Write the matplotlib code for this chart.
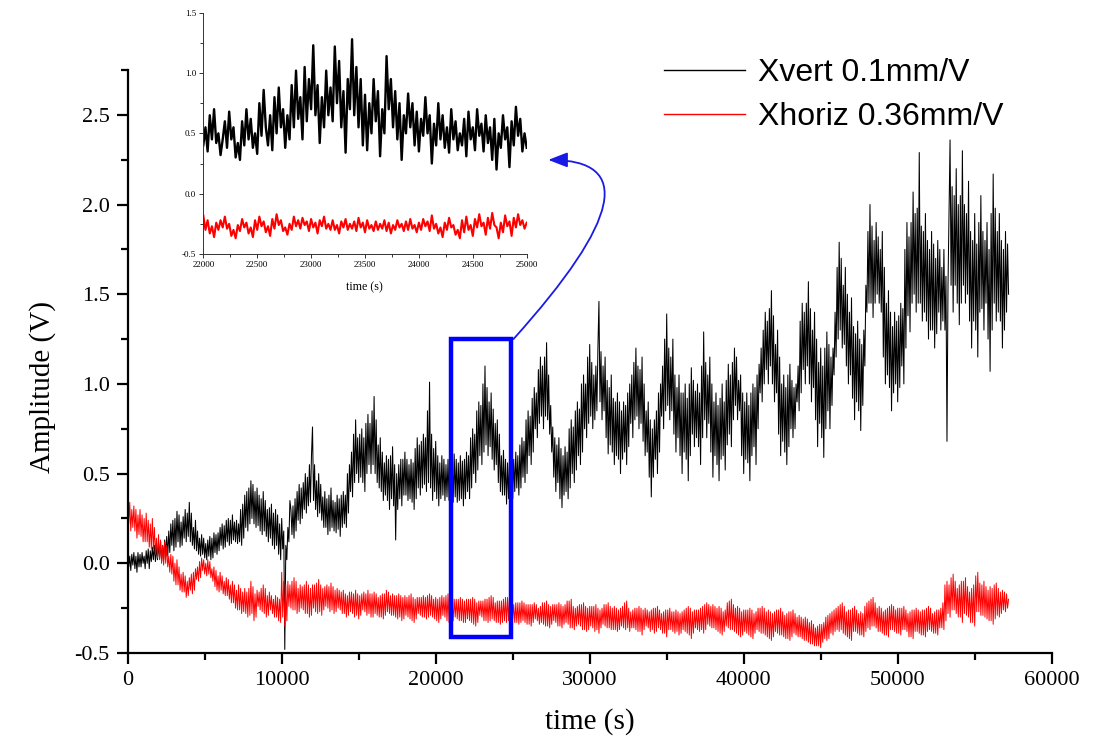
import numpy as np
import matplotlib
matplotlib.use("Agg")
import matplotlib.pyplot as plt
from matplotlib.patches import Rectangle
from matplotlib.ticker import MultipleLocator

# ---------------- data ----------------
# Main traces: local extremes read every 200 s (t = 0, 200, ...), plus the two
# smaller excursions read inside each 200 s interval (t + 67 s, t + 133 s).
t_step = 200
xvert_peaks = [
    0.02, -0.04, 0.06, -0.05, 0.05, 0.00, 0.07, -0.03, 0.09, 0.01,
    0.11, 0.01, 0.13, 0.04, 0.22, 0.07, 0.29, 0.09, 0.26, 0.12,
    0.34, 0.10, 0.24, 0.05, 0.16, 0.03, 0.13, 0.02, 0.17, 0.05,
    0.20, 0.08, 0.24, 0.10, 0.27, 0.12, 0.22, 0.10, 0.38, 0.18,
    0.46, 0.22, 0.42, 0.18, 0.40, 0.15, 0.31, 0.10, 0.30, 0.05,
    0.25, -0.48, 0.20, 0.30, 0.14, 0.40, 0.22, 0.45, 0.28, 0.55,
    0.76, 0.30, 0.50, 0.24, 0.40, 0.16, 0.42, 0.18, 0.38, 0.15,
    0.40, 0.20, 0.55, 0.37, 0.80, 0.45, 0.75, 0.40, 0.83, 0.50,
    0.93, 0.45, 0.70, 0.35, 0.60, 0.30, 0.65, 0.13, 0.55, 0.32,
    0.62, 0.35, 0.58, 0.30, 0.70, 0.38, 0.72, 0.40, 1.01, 0.35,
    0.68, 0.32, 0.60, 0.35, 0.58, 0.31, 0.61, 0.34, 0.60, 0.32,
    0.62, 0.36, 0.75, 0.45, 0.90, 0.55, 1.10, 0.60, 0.95, 0.52,
    0.80, 0.40, 0.63, 0.33, 0.60, 0.36, 0.62, 0.38, 0.70, 0.45,
    0.85, 0.55, 0.98, 0.70, 1.15, 0.75, 1.23, 0.72, 0.76, 0.40,
    0.70, 0.31, 0.65, 0.36, 0.80, 0.45, 0.90, 0.55, 1.05, 0.70,
    1.22, 0.75, 1.10, 1.46, 0.80, 1.15, 0.61, 1.05, 0.55, 0.95,
    0.50, 0.90, 0.55, 1.00, 0.70, 1.20, 0.75, 1.15, 0.60, 0.90,
    0.37, 0.80, 0.50, 1.00, 0.75, 1.39, 0.80, 1.25, 0.62, 1.05,
    0.50, 1.00, 0.46, 1.09, 0.65, 1.00, 0.55, 1.29, 0.70, 1.15,
    0.48, 0.95, 0.46, 1.00, 0.52, 1.11, 0.65, 1.20, 0.80, 1.05,
    0.50, 0.95, 0.46, 1.00, 0.55, 1.11, 0.90, 1.40, 1.00, 1.52,
    0.90, 1.30, 0.60, 1.05, 0.55, 1.11, 0.70, 1.00, 0.85, 1.45,
    1.00, 1.57, 0.90, 1.40, 0.65, 1.20, 0.59, 1.29, 0.75, 1.20,
    1.15, 1.79, 1.20, 1.65, 1.00, 1.48, 0.80, 1.35, 0.74, 1.30,
    1.40, 2.00, 1.37, 1.90, 1.45, 1.85, 1.00, 1.52, 0.85, 1.40,
    0.90, 1.45, 1.00, 1.90, 1.29, 2.07, 1.40, 2.29, 1.35, 1.95,
    1.25, 1.85, 1.20, 1.80, 1.30, 1.75, 0.68, 2.36, 1.40, 2.20,
    1.33, 2.30, 1.45, 2.13, 1.20, 1.95, 1.15, 2.05, 1.30, 1.90,
    1.07, 2.17, 1.35, 1.95, 1.20, 1.85, 1.50,
]
xvert_between = [
    -0.02, 0.04, 0.05, -0.01, -0.03, 0.04, 0.06, -0.02, -0.02, 0.06, 0.04, -0.03, 0.00, 0.08, 0.07, 0.01, 0.02, 0.10, 0.09, 0.02,
    0.03, 0.12, 0.10, 0.02, 0.05, 0.15, 0.18, 0.06, 0.10, 0.24, 0.25, 0.09, 0.12, 0.27, 0.23, 0.10, 0.14, 0.30, 0.28, 0.15,
    0.12, 0.28, 0.20, 0.08, 0.07, 0.18, 0.14, 0.04, 0.05, 0.14, 0.11, 0.02, 0.04, 0.15, 0.14, 0.03, 0.06, 0.16, 0.17, 0.07,
    0.10, 0.22, 0.21, 0.09, 0.12, 0.25, 0.24, 0.11, 0.13, 0.23, 0.24, 0.11, 0.12, 0.30, 0.33, 0.14, 0.20, 0.40, 0.42, 0.22,
    0.25, 0.44, 0.40, 0.20, 0.21, 0.38, 0.36, 0.16, 0.18, 0.35, 0.30, 0.12, 0.14, 0.33, 0.28, 0.08, 0.10, 0.27, 0.22, 0.02,
    0.08, 0.18, 0.10, 0.02, 0.12, 0.35, 0.16, 0.32, 0.36, 0.18, 0.24, 0.44, 0.42, 0.25, 0.30, 0.50, 0.48, 0.32, 0.34, 0.60,
    0.35, 0.55, 0.46, 0.26, 0.28, 0.44, 0.37, 0.20, 0.20, 0.36, 0.38, 0.18, 0.20, 0.35, 0.34, 0.17, 0.19, 0.36, 0.38, 0.20,
    0.22, 0.38, 0.50, 0.28, 0.40, 0.62, 0.72, 0.45, 0.50, 0.70, 0.72, 0.48, 0.45, 0.70, 0.78, 0.50, 0.55, 0.78, 0.85, 0.55,
    0.50, 0.80, 0.66, 0.42, 0.40, 0.62, 0.56, 0.38, 0.35, 0.58, 0.60, 0.36, 0.32, 0.55, 0.50, 0.30, 0.36, 0.58, 0.58, 0.38,
    0.38, 0.58, 0.55, 0.36, 0.34, 0.56, 0.64, 0.36, 0.42, 0.66, 0.68, 0.42, 0.44, 0.70, 0.85, 0.45, 0.42, 0.72, 0.64, 0.40,
    0.36, 0.60, 0.56, 0.36, 0.38, 0.58, 0.55, 0.37, 0.35, 0.56, 0.57, 0.34, 0.37, 0.58, 0.56, 0.35, 0.36, 0.57, 0.58, 0.36,
    0.40, 0.60, 0.70, 0.42, 0.50, 0.72, 0.85, 0.52, 0.60, 0.88, 1.00, 0.62, 0.66, 0.98, 0.90, 0.65, 0.58, 0.86, 0.78, 0.55,
    0.45, 0.72, 0.60, 0.38, 0.38, 0.58, 0.56, 0.36, 0.40, 0.57, 0.58, 0.40, 0.42, 0.60, 0.66, 0.42, 0.48, 0.68, 0.80, 0.50,
    0.60, 0.82, 0.92, 0.62, 0.75, 0.95, 1.08, 0.78, 0.82, 1.10, 1.15, 0.82, 0.80, 1.05, 0.88, 0.62, 0.48, 0.70, 0.66, 0.45,
    0.36, 0.64, 0.60, 0.38, 0.40, 0.62, 0.75, 0.42, 0.50, 0.76, 0.85, 0.52, 0.60, 0.86, 1.00, 0.62, 0.75, 1.00, 1.15, 0.78,
    0.82, 1.12, 1.05, 0.80, 0.85, 1.20, 0.90, 1.18, 1.10, 0.85, 0.70, 1.02, 0.98, 0.66, 0.62, 0.92, 0.90, 0.60, 0.58, 0.90,
    0.85, 0.58, 0.62, 0.88, 0.95, 0.65, 0.78, 1.05, 1.12, 0.80, 0.82, 1.10, 1.08, 0.78, 0.68, 1.00, 0.85, 0.62, 0.48, 0.80,
    0.75, 0.48, 0.58, 0.85, 0.95, 0.62, 0.82, 1.10, 1.25, 0.85, 0.88, 1.20, 1.15, 0.85, 0.72, 1.05, 0.98, 0.70, 0.60, 0.95,
    0.95, 0.62, 0.58, 0.92, 1.00, 0.60, 0.72, 1.02, 0.96, 0.70, 0.65, 0.95, 1.10, 0.70, 0.80, 1.12, 1.05, 0.78, 0.62, 1.00,
    0.90, 0.60, 0.55, 0.88, 0.92, 0.58, 0.60, 0.90, 1.02, 0.66, 0.72, 1.05, 1.12, 0.80, 0.88, 1.15, 1.02, 0.85, 0.60, 0.95,
    0.90, 0.58, 0.56, 0.88, 0.95, 0.60, 0.65, 0.98, 1.05, 0.75, 0.95, 1.20, 1.30, 1.00, 1.08, 1.35, 1.42, 1.10, 1.00, 1.38,
    1.22, 0.95, 0.72, 1.15, 1.00, 0.68, 0.62, 0.98, 1.05, 0.65, 0.75, 1.02, 0.98, 0.75, 0.90, 1.10, 1.35, 0.95, 1.08, 1.40,
    1.45, 1.10, 1.00, 1.42, 1.30, 0.98, 0.80, 1.25, 1.12, 0.78, 0.70, 1.10, 1.20, 0.75, 0.85, 1.22, 1.15, 0.88, 1.05, 1.40,
    1.65, 1.25, 1.30, 1.70, 1.55, 1.22, 1.10, 1.50, 1.40, 1.05, 0.92, 1.32, 1.28, 0.90, 0.85, 1.25, 1.22, 0.88, 1.10, 1.55,
    1.85, 1.45, 1.45, 1.88, 1.80, 1.45, 1.50, 1.82, 1.75, 1.40, 1.15, 1.65, 1.45, 1.05, 0.98, 1.40, 1.32, 0.95, 1.00, 1.35,
    1.38, 0.98, 1.10, 1.42, 1.75, 1.20, 1.38, 1.82, 1.90, 1.45, 1.50, 1.95, 1.98, 1.45, 1.45, 1.88, 1.85, 1.40, 1.35, 1.80,
    1.75, 1.30, 1.30, 1.78, 1.70, 1.28, 1.40, 1.75, 1.65, 1.35, 1.30, 1.60, 1.55, 1.95, 1.55, 2.10, 2.05, 1.55, 1.45, 2.00,
    2.05, 1.45, 1.55, 2.00, 1.95, 1.50, 1.35, 1.85, 1.80, 1.35, 1.30, 1.78, 1.90, 1.40, 1.42, 1.85, 1.80, 1.45, 1.25, 1.75,
    1.95, 1.30, 1.45, 1.98, 1.85, 1.40, 1.35, 1.80, 1.75, 1.30, 1.40, 1.78,
]
xhoriz_peaks = [
    0.39, 0.18, 0.32, 0.14, 0.30, 0.12, 0.28, 0.09, 0.25, 0.05,
    0.16, 0.00, 0.12, -0.02, 0.05, -0.10, 0.02, -0.15, -0.05, -0.19,
    -0.08, -0.17, -0.03, -0.10, 0.03, -0.06, 0.02, -0.08, -0.02, -0.15,
    -0.05, -0.17, -0.08, -0.20, -0.10, -0.25, -0.12, -0.28, -0.14, -0.30,
    -0.10, -0.32, -0.15, -0.26, -0.12, -0.30, -0.16, -0.28, -0.18, -0.32,
    -0.05, -0.35, -0.10, -0.25, -0.08, -0.28, -0.12, -0.26, -0.10, -0.30,
    -0.12, -0.27, -0.09, -0.29, -0.13, -0.25, -0.11, -0.28, -0.14, -0.26,
    -0.15, -0.30, -0.16, -0.28, -0.15, -0.31, -0.17, -0.27, -0.15, -0.30,
    -0.16, -0.29, -0.18, -0.31, -0.15, -0.28, -0.17, -0.30, -0.17, -0.32,
    -0.18, -0.30, -0.17, -0.33, -0.19, -0.29, -0.18, -0.31, -0.17, -0.30,
    -0.19, -0.33, -0.18, -0.30, -0.17, -0.34, -0.20, -0.31, -0.19, -0.33,
    -0.20, -0.32, -0.19, -0.35, -0.21, -0.30, -0.20, -0.33, -0.18, -0.32,
    -0.21, -0.34, -0.20, -0.33, -0.18, -0.31, -0.22, -0.34, -0.21, -0.33,
    -0.23, -0.35, -0.22, -0.32, -0.24, -0.34, -0.21, -0.36, -0.23, -0.33,
    -0.22, -0.36, -0.23, -0.34, -0.20, -0.37, -0.24, -0.35, -0.22, -0.38,
    -0.24, -0.36, -0.23, -0.39, -0.25, -0.35, -0.22, -0.37, -0.24, -0.38,
    -0.25, -0.36, -0.21, -0.38, -0.26, -0.37, -0.24, -0.40, -0.25, -0.36,
    -0.26, -0.39, -0.24, -0.37, -0.27, -0.41, -0.25, -0.38, -0.26, -0.40,
    -0.27, -0.38, -0.24, -0.42, -0.26, -0.37, -0.25, -0.39, -0.22, -0.35,
    -0.23, -0.37, -0.24, -0.40, -0.26, -0.36, -0.20, -0.38, -0.24, -0.41,
    -0.26, -0.39, -0.25, -0.42, -0.27, -0.38, -0.24, -0.40, -0.26, -0.43,
    -0.27, -0.39, -0.25, -0.41, -0.28, -0.43, -0.26, -0.40, -0.29, -0.42,
    -0.30, -0.44, -0.32, -0.46, -0.35, -0.47, -0.33, -0.43, -0.28, -0.40,
    -0.25, -0.38, -0.22, -0.40, -0.26, -0.43, -0.24, -0.39, -0.27, -0.41,
    -0.22, -0.37, -0.19, -0.36, -0.24, -0.39, -0.26, -0.41, -0.23, -0.38,
    -0.25, -0.40, -0.24, -0.38, -0.27, -0.42, -0.25, -0.39, -0.26, -0.41,
    -0.24, -0.38, -0.27, -0.40, -0.25, -0.37, -0.10, -0.30, -0.06, -0.28,
    -0.12, -0.33, -0.08, -0.30, -0.14, -0.35, -0.05, -0.29, -0.10, -0.31,
    -0.13, -0.34, -0.11, -0.30, -0.15, -0.27, -0.20,
]
xhoriz_between = [
    0.22, 0.34, 0.30, 0.20, 0.18, 0.30, 0.27, 0.16, 0.15, 0.27, 0.25, 0.12, 0.12, 0.24, 0.22, 0.08, 0.08, 0.20, 0.14, 0.03,
    0.02, 0.13, 0.10, -0.01, 0.00, 0.10, 0.04, -0.05, -0.06, 0.04, 0.00, -0.12, -0.12, -0.02, -0.06, -0.16, -0.16, -0.07, -0.10, -0.18,
    -0.15, -0.06, -0.05, -0.15, -0.09, -0.02, 0.01, -0.08, -0.04, 0.02, 0.00, -0.07, -0.06, 0.01, -0.03, -0.10, -0.13, -0.04, -0.07, -0.16,
    -0.15, -0.07, -0.10, -0.18, -0.18, -0.09, -0.12, -0.22, -0.22, -0.12, -0.15, -0.26, -0.26, -0.14, -0.16, -0.27, -0.28, -0.16, -0.14, -0.29,
    -0.28, -0.13, -0.17, -0.30, -0.24, -0.16, -0.14, -0.27, -0.28, -0.14, -0.18, -0.29, -0.26, -0.18, -0.20, -0.30, -0.30, -0.19, -0.20, -0.33,
    -0.30, -0.10, -0.12, -0.32, -0.24, -0.12, -0.10, -0.26, -0.26, -0.10, -0.14, -0.27, -0.25, -0.13, -0.12, -0.28, -0.28, -0.12, -0.14, -0.29,
    -0.25, -0.12, -0.11, -0.28, -0.27, -0.12, -0.14, -0.26, -0.24, -0.12, -0.13, -0.27, -0.26, -0.13, -0.15, -0.27, -0.25, -0.15, -0.16, -0.28,
    -0.28, -0.17, -0.18, -0.29, -0.27, -0.16, -0.17, -0.30, -0.29, -0.17, -0.18, -0.29, -0.26, -0.16, -0.17, -0.29, -0.28, -0.17, -0.17, -0.30,
    -0.28, -0.17, -0.19, -0.30, -0.30, -0.17, -0.17, -0.29, -0.27, -0.16, -0.18, -0.29, -0.29, -0.18, -0.18, -0.31, -0.30, -0.18, -0.19, -0.31,
    -0.29, -0.19, -0.18, -0.31, -0.32, -0.19, -0.20, -0.31, -0.28, -0.19, -0.19, -0.30, -0.30, -0.19, -0.18, -0.30, -0.29, -0.18, -0.20, -0.31,
    -0.32, -0.20, -0.19, -0.31, -0.29, -0.19, -0.18, -0.32, -0.33, -0.19, -0.21, -0.32, -0.30, -0.20, -0.20, -0.32, -0.32, -0.20, -0.21, -0.33,
    -0.31, -0.20, -0.20, -0.33, -0.34, -0.20, -0.22, -0.33, -0.29, -0.21, -0.21, -0.32, -0.32, -0.20, -0.19, -0.32, -0.31, -0.19, -0.22, -0.33,
    -0.33, -0.21, -0.21, -0.33, -0.32, -0.19, -0.19, -0.32, -0.30, -0.21, -0.23, -0.33, -0.33, -0.22, -0.22, -0.33, -0.32, -0.22, -0.23, -0.34,
    -0.34, -0.23, -0.23, -0.33, -0.31, -0.23, -0.25, -0.34, -0.33, -0.22, -0.22, -0.35, -0.35, -0.23, -0.24, -0.34, -0.32, -0.23, -0.23, -0.35,
    -0.35, -0.23, -0.24, -0.34, -0.33, -0.21, -0.21, -0.36, -0.36, -0.24, -0.25, -0.35, -0.34, -0.23, -0.23, -0.37, -0.37, -0.24, -0.25, -0.37,
    -0.35, -0.24, -0.24, -0.38, -0.37, -0.25, -0.26, -0.36, -0.34, -0.23, -0.23, -0.36, -0.36, -0.24, -0.25, -0.37, -0.37, -0.25, -0.26, -0.37,
    -0.35, -0.24, -0.22, -0.37, -0.36, -0.25, -0.27, -0.36, -0.36, -0.25, -0.25, -0.38, -0.38, -0.25, -0.26, -0.37, -0.35, -0.26, -0.27, -0.38,
    -0.37, -0.25, -0.25, -0.38, -0.36, -0.26, -0.28, -0.39, -0.39, -0.26, -0.26, -0.37, -0.37, -0.27, -0.27, -0.39, -0.38, -0.27, -0.28, -0.39,
    -0.37, -0.26, -0.25, -0.39, -0.40, -0.25, -0.27, -0.39, -0.36, -0.26, -0.26, -0.38, -0.37, -0.24, -0.23, -0.37, -0.34, -0.23, -0.24, -0.36,
    -0.36, -0.24, -0.25, -0.38, -0.39, -0.25, -0.27, -0.38, -0.35, -0.22, -0.21, -0.37, -0.37, -0.23, -0.25, -0.39, -0.40, -0.25, -0.27, -0.40,
    -0.38, -0.26, -0.26, -0.40, -0.41, -0.26, -0.28, -0.39, -0.37, -0.25, -0.25, -0.39, -0.39, -0.25, -0.27, -0.41, -0.42, -0.27, -0.28, -0.41,
    -0.38, -0.26, -0.26, -0.40, -0.40, -0.27, -0.29, -0.42, -0.42, -0.27, -0.27, -0.41, -0.39, -0.28, -0.30, -0.41, -0.41, -0.30, -0.31, -0.43,
    -0.43, -0.31, -0.33, -0.45, -0.45, -0.34, -0.36, -0.46, -0.46, -0.34, -0.34, -0.44, -0.42, -0.30, -0.29, -0.42, -0.39, -0.27, -0.26, -0.38,
    -0.37, -0.24, -0.23, -0.37, -0.39, -0.24, -0.27, -0.41, -0.42, -0.26, -0.25, -0.38, -0.38, -0.26, -0.28, -0.40, -0.40, -0.28, -0.24, -0.38,
    -0.36, -0.21, -0.20, -0.35, -0.35, -0.22, -0.25, -0.38, -0.38, -0.25, -0.27, -0.40, -0.40, -0.25, -0.24, -0.37, -0.37, -0.24, -0.26, -0.39,
    -0.39, -0.25, -0.25, -0.37, -0.37, -0.26, -0.28, -0.41, -0.41, -0.26, -0.26, -0.38, -0.38, -0.26, -0.27, -0.40, -0.40, -0.26, -0.25, -0.38,
    -0.37, -0.25, -0.28, -0.39, -0.39, -0.26, -0.26, -0.36, -0.36, -0.22, -0.12, -0.32, -0.28, -0.12, -0.08, -0.26, -0.26, -0.10, -0.14, -0.30,
    -0.30, -0.10, -0.10, -0.28, -0.29, -0.13, -0.16, -0.33, -0.33, -0.12, -0.07, -0.27, -0.27, -0.11, -0.12, -0.29, -0.30, -0.13, -0.15, -0.32,
    -0.32, -0.14, -0.12, -0.31, -0.29, -0.14, -0.16, -0.28, -0.26, -0.16, -0.17, -0.25,
]

# inset (zoom 22000 - 25000 s)
inset_start, inset_step = 22000, 20
inset_vert = [
    0.40, 0.55, 0.35, 0.65, 0.45, 0.70, 0.42, 0.50, 0.32, 0.45,
    0.60, 0.38, 0.68, 0.45, 0.55, 0.30, 0.42, 0.28, 0.60, 0.40,
    0.70, 0.45, 0.62, 0.38, 0.50, 0.33, 0.75, 0.48, 0.86, 0.55,
    0.40, 0.65, 0.36, 0.80, 0.50, 0.88, 0.55, 0.70, 0.38, 0.65,
    0.45, 0.90, 0.55, 1.02, 0.62, 0.80, 0.45, 1.05, 0.60, 0.95,
    0.70, 1.23, 0.65, 0.90, 0.42, 0.80, 0.55, 1.02, 0.65, 0.88,
    0.60, 1.22, 0.75, 1.10, 0.55, 0.85, 0.34, 0.95, 0.70, 1.28,
    0.65, 1.05, 0.55, 0.95, 0.40, 0.82, 0.36, 0.75, 0.50, 0.95,
    0.60, 0.85, 0.31, 0.70, 0.50, 1.14, 0.70, 0.95, 0.55, 0.85,
    0.45, 0.75, 0.28, 0.65, 0.50, 0.83, 0.55, 0.75, 0.40, 0.68,
    0.35, 0.62, 0.48, 0.80, 0.50, 0.65, 0.25, 0.58, 0.40, 0.75,
    0.45, 0.65, 0.38, 0.55, 0.34, 0.70, 0.45, 0.60, 0.36, 0.50,
    0.40, 0.62, 0.31, 0.68, 0.45, 0.55, 0.36, 0.70, 0.48, 0.58,
    0.35, 0.65, 0.42, 0.55, 0.28, 0.62, 0.20, 0.50, 0.38, 0.65,
    0.45, 0.55, 0.22, 0.60, 0.40, 0.72, 0.48, 0.62, 0.35, 0.50,
    0.38,
]
inset_horiz = [
    -0.18, -0.30, -0.22, -0.33, -0.27, -0.36, -0.24, -0.30, -0.22, -0.28,
    -0.19, -0.29, -0.25, -0.35, -0.30, -0.37, -0.26, -0.31, -0.21, -0.28,
    -0.24, -0.33, -0.28, -0.36, -0.22, -0.30, -0.19, -0.27, -0.23, -0.32,
    -0.27, -0.35, -0.21, -0.29, -0.17, -0.26, -0.22, -0.31, -0.28, -0.34,
    -0.25, -0.30, -0.19, -0.27, -0.22, -0.29, -0.20, -0.26, -0.23, -0.31,
    -0.21, -0.28, -0.24, -0.33, -0.22, -0.27, -0.19, -0.29, -0.25, -0.30,
    -0.22, -0.30, -0.26, -0.33, -0.23, -0.28, -0.21, -0.30, -0.25, -0.29,
    -0.23, -0.31, -0.20, -0.28, -0.24, -0.32, -0.22, -0.29, -0.26, -0.31,
    -0.23, -0.30, -0.25, -0.29, -0.22, -0.31, -0.24, -0.33, -0.26, -0.30,
    -0.22, -0.28, -0.25, -0.31, -0.23, -0.30, -0.21, -0.29, -0.26, -0.32,
    -0.24, -0.30, -0.21, -0.27, -0.23, -0.31, -0.18, -0.29, -0.25, -0.33,
    -0.28, -0.36, -0.24, -0.30, -0.20, -0.28, -0.26, -0.34, -0.30, -0.37,
    -0.22, -0.32, -0.19, -0.30, -0.26, -0.35, -0.21, -0.28, -0.17, -0.27,
    -0.24, -0.34, -0.20, -0.29, -0.16, -0.26, -0.28, -0.37, -0.24, -0.32,
    -0.18, -0.27, -0.23, -0.35, -0.20, -0.28, -0.17, -0.26, -0.22, -0.29,
    -0.24,
]

labels = ["Xvert 0.1mm/V", "Xhoriz 0.36mm/V"]
zoom_box = (21000, 24900, -0.41, 1.25)   # t0, t1, v0, v1


def merge(peaks, between):
    """Order the readings in time: peak k, its two in-between readings, peak k+1, ..."""
    y = [peaks[0]]
    for k in range(1, len(peaks)):
        y += [between[2 * k - 2], between[2 * k - 1], peaks[k]]
    y = np.array(y)
    t = np.arange(len(y)) * (t_step / 3)
    return t, y


# ---------------- figure ----------------
W, H = 1099, 745
fig = plt.figure(figsize=(W / 100, H / 100), dpi=100)
serif = "Liberation Serif"
sans = "Liberation Sans"

def fx(px):
    return px / W

def fy(py):
    return 1 - py / H

ax = fig.add_axes([fx(127.7), fy(653), fx(1051.7) - fx(127.7), fy(70) - fy(653)])

tv, yv = merge(xvert_peaks, xvert_between)
th, yh = merge(xhoriz_peaks, xhoriz_between)
l1, = ax.plot(tv, yv, color="black", lw=0.75)
l2, = ax.plot(th, yh, color="#ff0000", lw=0.7)

ax.set_xlim(0, 60000)
ax.set_ylim(-0.5, 2.75)
ax.xaxis.set_major_locator(MultipleLocator(10000))
ax.xaxis.set_minor_locator(MultipleLocator(5000))
ax.yaxis.set_major_locator(MultipleLocator(0.5))
ax.yaxis.set_minor_locator(MultipleLocator(0.25))
ax.yaxis.set_major_formatter(matplotlib.ticker.FuncFormatter(lambda v, p: f"{v:.1f}"))
for s in ("top", "right"):
    ax.spines[s].set_visible(False)
for s in ("left", "bottom"):
    ax.spines[s].set_linewidth(1.6)
ax.tick_params(which="major", direction="out", length=8, width=1.6, labelsize=16, pad=5)
ax.tick_params(which="minor", direction="out", length=5, width=1.6)
for lab in ax.get_xticklabels() + ax.get_yticklabels():
    lab.set_fontfamily(serif)

ax.set_xlabel("time (s)", fontsize=21, fontfamily=serif)
ax.xaxis.set_label_coords(0.5003, -0.118)
ax.xaxis.label.set_va("center")
ax.set_ylabel("Amplitude (V)", fontsize=21, fontfamily=serif)
ax.yaxis.set_label_coords(-0.0927, 0.456)
ax.yaxis.label.set_va("center")

# zoom box
ax.add_patch(Rectangle((zoom_box[0], zoom_box[2]), zoom_box[1] - zoom_box[0],
                       zoom_box[3] - zoom_box[2], fill=False,
                       edgecolor="#0000ff", lw=3.2, zorder=5))

# legend
leg = ax.legend([l1, l2], labels, loc="upper left",
                bbox_to_anchor=(fx(664), fy(58)), bbox_transform=fig.transFigure,
                frameon=False, borderpad=0, borderaxespad=0,
                handlelength=2.55, handletextpad=0.4, labelspacing=0.44,
                prop={"family": sans, "size": 23})
for h in leg.get_lines():
    h.set_linewidth(1.0)

# inset
axin = fig.add_axes([fx(203.3), fy(254), fx(526.7) - fx(203.3), fy(12.7) - fy(254)])
ti = inset_start + np.arange(len(inset_vert)) * inset_step
axin.plot(ti, inset_vert, color="black", lw=1.7)
axin.plot(inset_start + np.arange(len(inset_horiz)) * inset_step, inset_horiz,
          color="#ff0000", lw=1.5)
axin.set_xlim(22000, 25000)
axin.set_ylim(-0.5, 1.5)
axin.xaxis.set_major_locator(MultipleLocator(500))
axin.xaxis.set_minor_locator(MultipleLocator(250))
axin.yaxis.set_major_locator(MultipleLocator(0.5))
axin.yaxis.set_minor_locator(MultipleLocator(0.25))
axin.yaxis.set_major_formatter(matplotlib.ticker.FuncFormatter(lambda v, p: f"{v:.1f}"))
for s in ("top", "right"):
    axin.spines[s].set_visible(False)
for s in ("left", "bottom"):
    axin.spines[s].set_linewidth(0.7)
    axin.spines[s].set_color("#333333")
axin.tick_params(which="major", direction="out", length=3, width=0.7, labelsize=6.5, pad=2,
                 color="#333333")
axin.tick_params(which="minor", direction="out", length=2, width=0.7, color="#333333")
for lab in axin.get_xticklabels() + axin.get_yticklabels():
    lab.set_fontfamily(serif)
axin.set_xlabel("time (s)", fontsize=8.6, fontfamily=serif)
axin.xaxis.set_label_coords(0.497, -0.137)
axin.xaxis.label.set_va("center")

# curved arrow from zoom box to inset
ax.annotate("", xy=(25200, 0.28), xycoords=axin.transData,
            xytext=(zoom_box[1] + 150, zoom_box[3]), textcoords=ax.transData,
            arrowprops=dict(arrowstyle="-|>,head_length=0.9,head_width=0.35",
                            connectionstyle="angle3,angleA=48,angleB=0", color="#1a1ae6",
                            lw=1.3, shrinkA=0, shrinkB=0, mutation_scale=13),
            annotation_clip=False)

fig.savefig("out.png", dpi=100)
